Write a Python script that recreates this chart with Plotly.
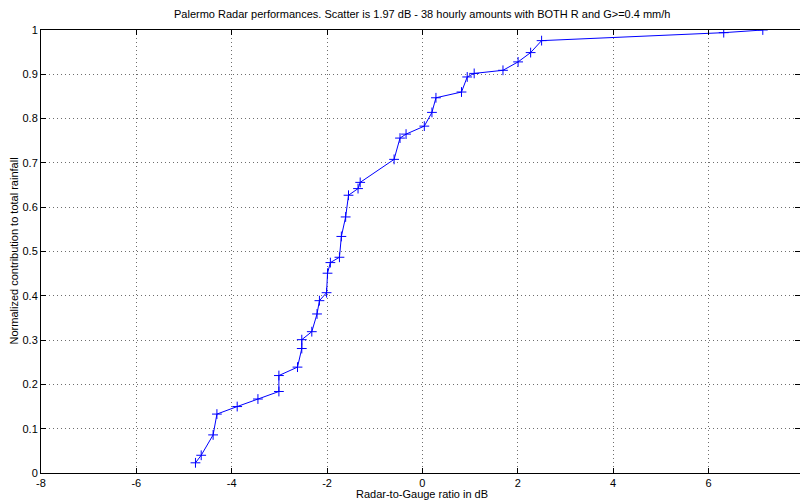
import plotly.graph_objects as go

ratio_db = [-4.76, -4.64, -4.39, -4.31, -3.885, -3.45, -3.01, -3.01, -2.62, -2.53,
            -2.53, -2.32, -2.21, -2.16, -2.01, -1.99, -1.93, -1.74, -1.70, -1.61,
            -1.55, -1.35, -1.305, -0.594, -0.47, -0.343, 0.04, 0.20, 0.284, 0.82,
            0.94, 1.086, 1.69, 2.007, 2.27, 2.50, 6.32, 7.14]
contribution = [0.023, 0.040, 0.086, 0.133, 0.150, 0.167, 0.184, 0.220, 0.239, 0.281,
                0.301, 0.319, 0.359, 0.389, 0.407, 0.451, 0.475, 0.487, 0.534, 0.578,
                0.627, 0.642, 0.656, 0.708, 0.756, 0.765, 0.783, 0.814, 0.847, 0.860,
                0.894, 0.902, 0.909, 0.928, 0.949, 0.976, 0.994, 1.000]

x_ticks = [-8, -6, -4, -2, 0, 2, 4, 6]
y_ticks = [0, 0.1, 0.2, 0.3, 0.4, 0.5, 0.6, 0.7, 0.8, 0.9, 1]
y_tick_labels = ["0", "0.1", "0.2", "0.3", "0.4", "0.5", "0.6", "0.7", "0.8", "0.9", "1"]

title_text = "Palermo Radar performances. Scatter is 1.97 dB - 38 hourly amounts with BOTH R and G>=0.4 mm/h"
x_label = "Radar-to-Gauge ratio in dB"
y_label = "Normalized contribution to total rainfall"

fig = go.Figure()
fig.add_trace(go.Scatter(
    x=ratio_db, y=contribution, mode="lines+markers",
    line=dict(color="rgb(0,0,255)", width=1),
    marker=dict(symbol="cross-thin-open", size=7, line=dict(color="rgb(0,0,255)", width=1)),
    showlegend=False,
))

font = dict(family="Liberation Sans, Arial, sans-serif", size=11, color="black")
axis_common = dict(
    showline=True, linecolor="black", linewidth=1, mirror="ticks",
    ticks="inside", ticklen=5, tickcolor="black",
    showgrid=True, gridcolor="rgb(110,110,110)", griddash="1px,3px", gridwidth=1,
    zeroline=False, tickfont=font, automargin=False,
)

fig.update_layout(
    width=800, height=500,
    margin=dict(l=41, r=0, t=30, b=27),
    paper_bgcolor="white", plot_bgcolor="white",
    font=font,
    xaxis=dict(range=[-8, 7.92], tickvals=x_ticks, ticktext=[str(v) for v in x_ticks],
               **axis_common),
    yaxis=dict(range=[0, 1], tickvals=y_ticks, ticktext=y_tick_labels,
               **axis_common),
    annotations=[
        dict(text=title_text, xref="paper", yref="paper", x=(422 - 41) / 759, y=1 + (30 - 14) / 443,
             xanchor="center", yanchor="middle", showarrow=False, font=font),
        dict(text=x_label, xref="paper", yref="paper", x=(422 - 41) / 759, y=-(494 - 473) / 443,
             xanchor="center", yanchor="middle", showarrow=False, font=font),
        dict(text=y_label, xref="paper", yref="paper", x=-(41 - 13) / 759, y=0.5,
             xanchor="center", yanchor="middle", textangle=-90, showarrow=False, font=font),
    ],
)

fig.write_html("out.html", config={"displayModeBar": False},
               post_script="document.body.style.margin='0';document.body.style.overflow='hidden';")
